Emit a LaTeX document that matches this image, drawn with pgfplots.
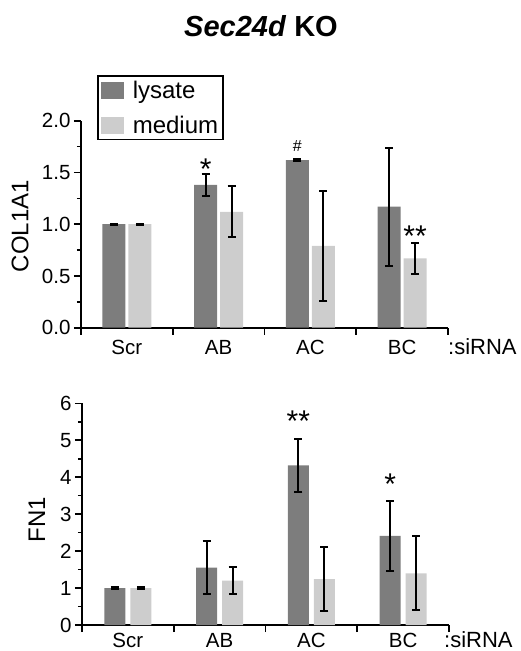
\documentclass[border=0pt]{standalone}
\usepackage{fontspec}
\setmainfont{Liberation Sans}
\usepackage{pgfplots}
\pgfplotsset{compat=1.18}

\definecolor{lysate}{RGB}{125,125,125}
\definecolor{medium}{RGB}{205,205,205}

\newcommand{\labfont}{\fontsize{24}{28}\selectfont}

\pgfplotsset{
  sibars/.style={
    scale only axis, width=367pt, clip=false,
    xmin=-0.5, xmax=3.5, ymin=0,
    axis x line*=bottom, axis y line*=left,
    axis line style={line width=1.8pt, -},
    tick align=outside,
    major tick length=7pt, minor tick length=4pt,
    tick style={line width=1.6pt, black},
    minor y tick num=1,
    xtick={-0.5,0.5,1.5,2.5,3.5}, xticklabels={},
    extra x ticks={0,1,2,3},
    extra x tick labels={Scr,AB,AC,BC},
    extra x tick style={major tick length=0pt},
    tick label style={font=\fontsize{20.5}{24}\selectfont},
    /pgf/number format/assume math mode=true,
    ylabel style={anchor=center},
    error bars/y dir=both, error bars/y explicit,
    error bars/error bar style={line width=2pt, black},
    error bars/error mark options={rotate=90, mark size=4pt, line width=2pt, black},
  },
  squarelegend/.style={
    legend image code/.code={\fill[##1] (0pt,-8.5pt) rectangle (23pt,8.5pt); \path (30pt,0pt);},
  },
}

\begin{document}
\begin{tikzpicture}
\path[use as bounding box] (-81pt,327.7pt) rectangle (439pt,-323.3pt);

\node[font=\fontsize{29}{34}\selectfont\bfseries] at (180pt,301.7pt) {\textit{Sec24d} KO};

% top: COL1A1
\begin{axis}[sibars, at={(0pt,0pt)}, anchor=south west,
    height=207pt, ymax=2,
    ybar=3pt, bar width=23pt, squarelegend,
    xticklabel style={anchor=base, yshift=-26.5pt},
    ytick={0,0.5,1,1.5,2},
    yticklabel style={/pgf/number format/.cd, fixed, fixed zerofill, precision=1},
    ylabel={\labfont COL1A1},
    ylabel style={at={(axis description cs:-0.166,0.49)}},
    legend style={at={(0.0435,1.221)}, anchor=north west, draw=black,
      line width=1.6pt, font=\labfont, inner xsep=3pt, inner ysep=3pt,
      legend cell align=left, row sep=12pt},
  ]
  \addplot[fill=lysate, draw=none] coordinates {
    (0,1.00) +- (0,0.005)
    (1,1.38) +- (0,0.105)
    (2,1.62) +- (0,0.01)
    (3,1.17) +- (0,0.57)
  };
  \addplot[fill=medium, draw=none] coordinates {
    (0,1.00) +- (0,0.005)
    (1,1.12) +- (0,0.245)
    (2,0.79) +- (0,0.53)
    (3,0.67) +- (0,0.15)
  };
  \legend{lysate, medium}
  \node[font=\fontsize{30}{34}\selectfont, anchor=north, inner sep=0pt] at (axis cs:1,1.637) [xshift=-13pt] {*};
  \node[font=\fontsize{16}{18}\selectfont, anchor=north, inner sep=0pt] at (axis cs:2,1.813) [xshift=-13pt] {\#};
  \node[font=\fontsize{30}{34}\selectfont, anchor=north, inner sep=0pt] at (axis cs:3,0.983) [xshift=13pt] {**};
  \node[font=\fontsize{22}{26}\selectfont, anchor=base west, inner sep=0pt] at (axis cs:3.5,0) [xshift=0pt, yshift=-26.5pt] {:siRNA};
\end{axis}

% bottom: FN1
\begin{axis}[sibars, at={(1pt,-297.3pt)}, anchor=south west,
    height=221.7pt, ymax=6,
    ybar=5pt, bar width=21pt,
    xticklabel style={anchor=base, yshift=-22.5pt},
    ytick={0,1,2,3,4,5,6},
    ylabel={\labfont FN1},
    ylabel style={at={(axis description cs:-0.123,0.474)}},
  ]
  \addplot[fill=lysate, draw=none] coordinates {
    (0,1.00) +- (0,0.02)
    (1,1.55) +- (0,0.71)
    (2,4.32) +- (0,0.72)
    (3,2.41) +- (0,0.95)
  };
  \addplot[fill=medium, draw=none] coordinates {
    (0,1.00) +- (0,0.02)
    (1,1.20) +- (0,0.37)
    (2,1.24) +- (0,0.86)
    (3,1.40) +- (0,1.00)
  };
  \node[font=\fontsize{30}{34}\selectfont, anchor=north, inner sep=0pt] at (axis cs:2,5.79) [xshift=-13pt] {**};
  \node[font=\fontsize{30}{34}\selectfont, anchor=north, inner sep=0pt] at (axis cs:3,4.09) [xshift=-13pt] {*};
  \node[font=\fontsize{22}{26}\selectfont, anchor=base west, inner sep=0pt] at (axis cs:3.5,0) [xshift=-5pt, yshift=-22.5pt] {:siRNA};
\end{axis}
\end{tikzpicture}
\end{document}
